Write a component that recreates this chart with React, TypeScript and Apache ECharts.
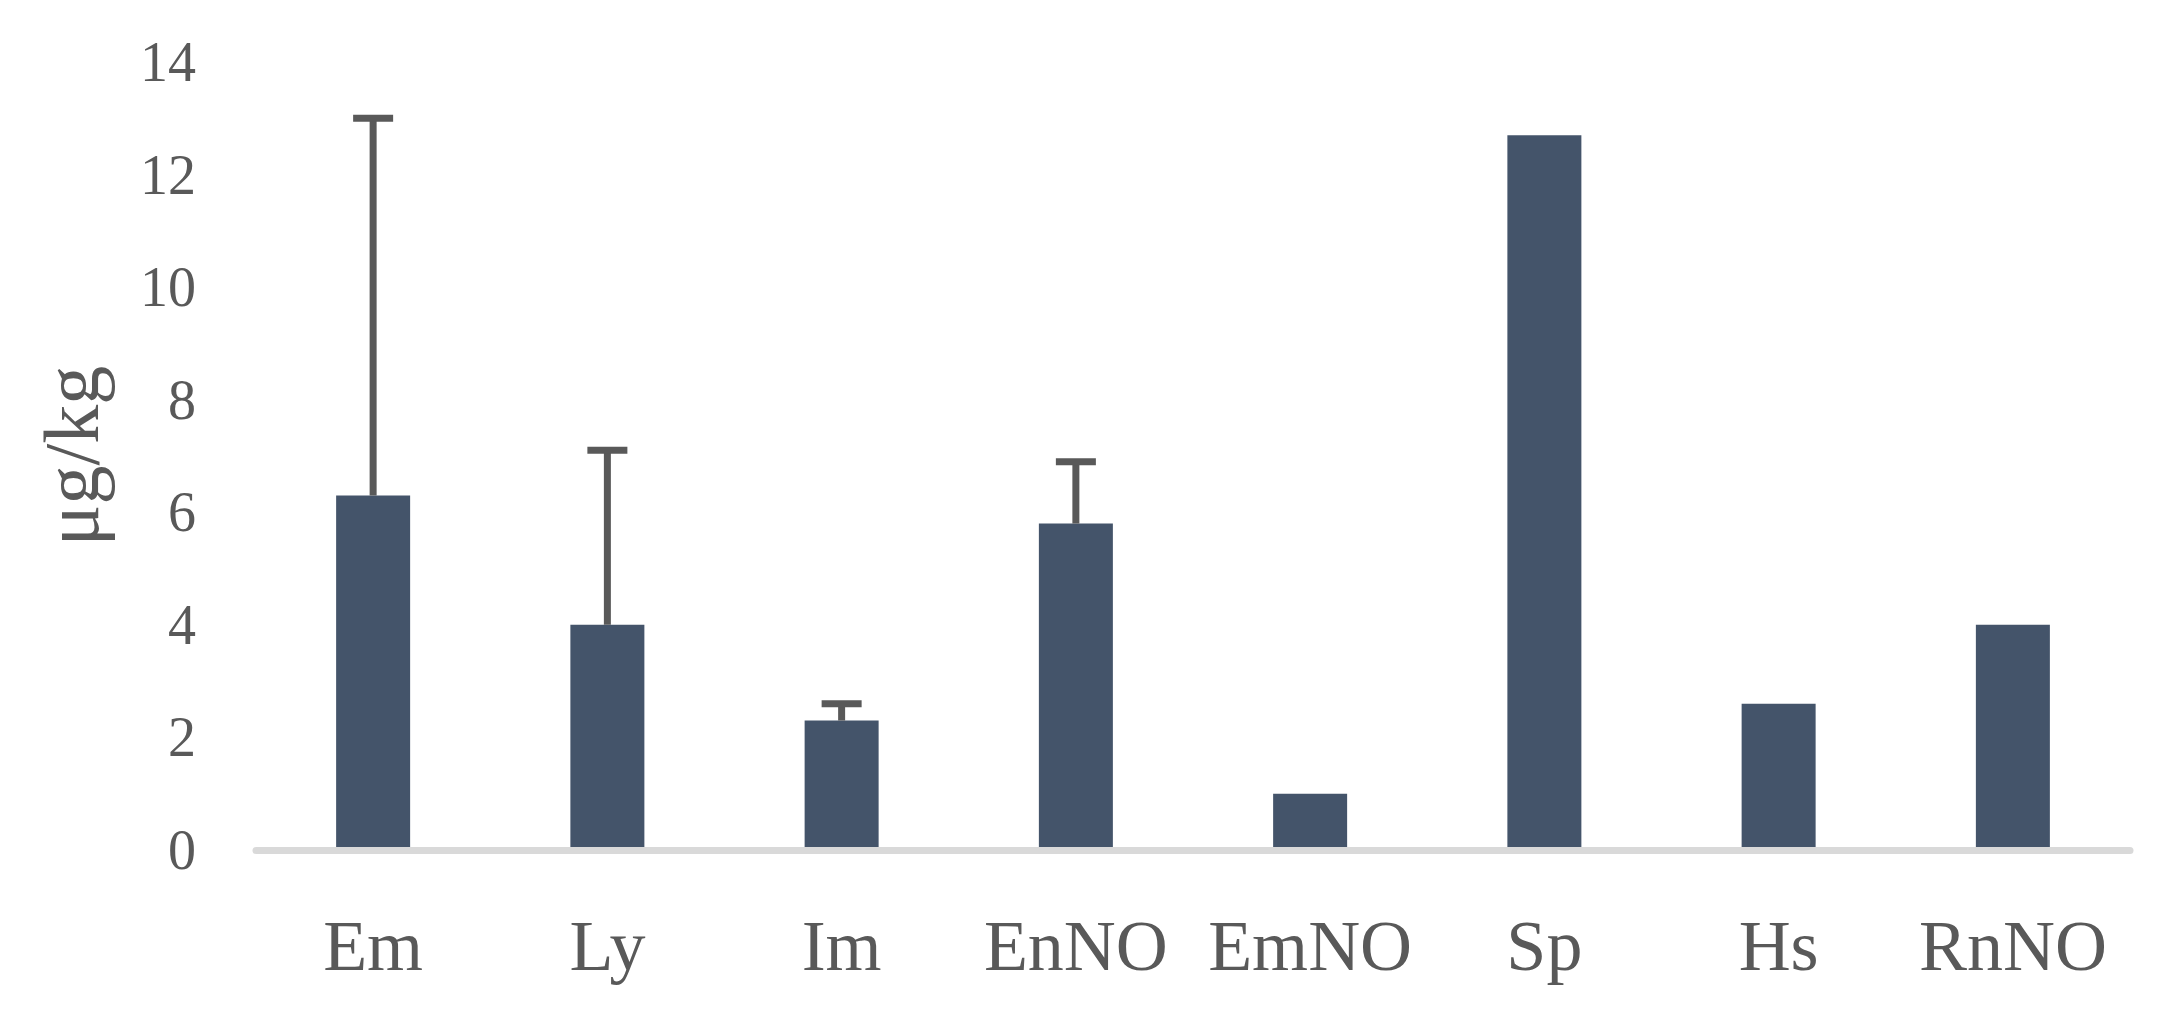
import React, { useEffect, useRef } from "react";
import * as echarts from "echarts";

const categories = ["Em", "Ly", "Im", "EnNO", "EmNO", "Sp", "Hs", "RnNO"];
const values = [6.3, 4.0, 2.3, 5.8, 1.0, 12.7, 2.6, 4.0];
const errorTop = [13.0, 7.1, 2.6, 6.9, null, null, null, null];
const yTicks = { min: 0, max: 14, interval: 2 };
const yName = "μg/kg";

const FONT = "Liberation Serif";
const TEXT = "#595959";

export default function App() {
  const ref = useRef<HTMLDivElement>(null);
  useEffect(() => {
    if (!ref.current) return;
    const chart = echarts.init(ref.current, null, { renderer: "svg" });
    const errData = errorTop
      .map((t, i) => (t == null ? null : [i, values[i], t]))
      .filter((d) => d != null);
    chart.setOption({
      animation: false,
      backgroundColor: "#ffffff",
      grid: { left: 256, right: 50, top: 62, bottom: 174, containLabel: false },
      xAxis: {
        type: "category",
        data: categories,
        z: 3,
        axisTick: { show: false },
        axisLine: { show: true, lineStyle: { color: "#d9d9d9", width: 7 } },
        axisLabel: {
          color: TEXT,
          fontFamily: FONT,
          fontSize: 72,
          margin: 60,
          interval: 0,
          hideOverlap: false,
        },
      },
      yAxis: {
        type: "value",
        min: yTicks.min,
        max: yTicks.max,
        interval: yTicks.interval,
        name: yName,
        nameLocation: "middle",
        nameGap: 146,
        nameRotate: 90,
        nameTextStyle: { color: TEXT, fontFamily: FONT, fontSize: 78 },
        axisLine: { show: false },
        axisTick: { show: false },
        splitLine: { show: false },
        axisLabel: {
          color: TEXT,
          fontFamily: FONT,
          fontSize: 56,
          margin: 60,
        },
      },
      series: [
        {
          type: "bar",
          data: values,
          barWidth: 74,
          itemStyle: { color: "#44546A" },
        },
        {
          type: "custom",
          data: errData,
          z: 4,
          renderItem: (params: any, api: any) => {
            const x = api.value(0);
            const lo = api.coord([x, api.value(1)]);
            const hi = api.coord([x, api.value(2)]);
            const st = { stroke: "#595959", lineWidth: 7 };
            return {
              type: "group",
              children: [
                { type: "line", shape: { x1: lo[0], y1: lo[1], x2: hi[0], y2: hi[1] }, style: st },
                { type: "line", shape: { x1: hi[0] - 20, y1: hi[1], x2: hi[0] + 20, y2: hi[1] }, style: st },
              ],
            };
          },
        },
      ],
    });
    return () => chart.dispose();
  }, []);
  return (
    <div
      ref={ref}
      style={{ position: "fixed", left: 0, top: 0, width: 2180, height: 1024, background: "#fff" }}
    />
  );
}
